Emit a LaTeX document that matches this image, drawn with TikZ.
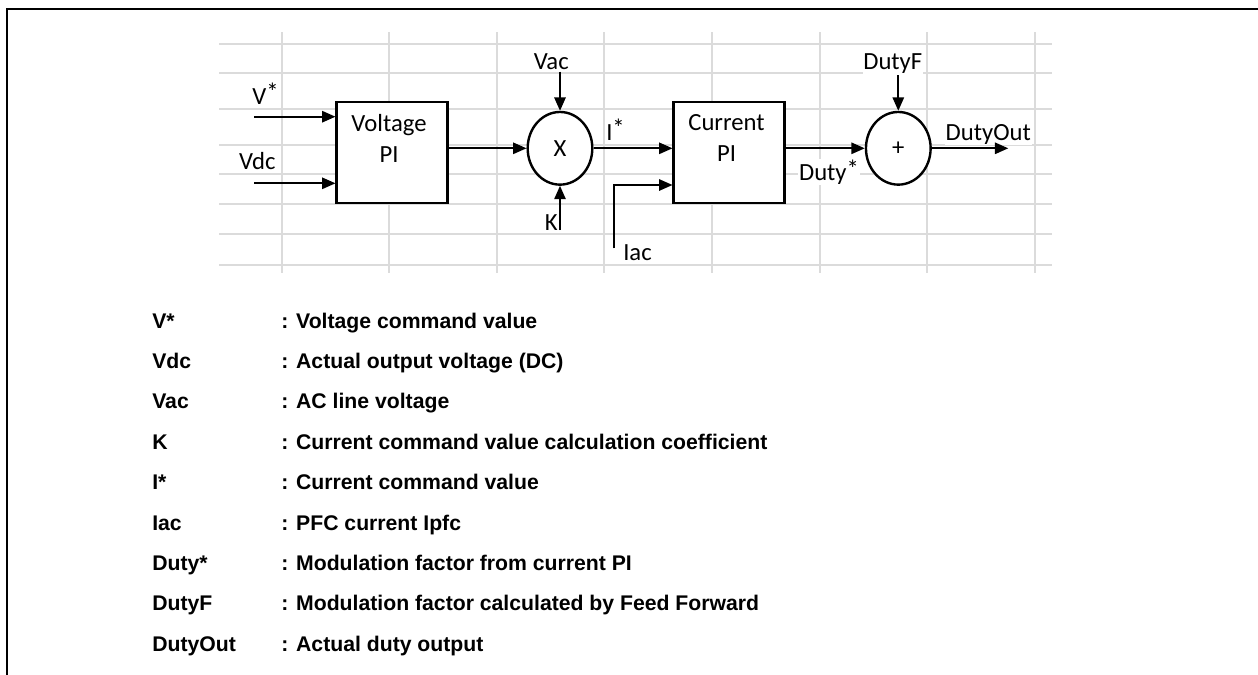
\documentclass[tikz,border=0pt]{standalone}
\usepackage{fontspec}
\setmainfont{Carlito}
\newfontfamily\legfam{Liberation Sans}
\usetikzlibrary{arrows.meta,shapes.geometric}
\newcommand\diafont{\fontsize{18.5}{23.3}\selectfont}
\newcommand\legfont{\legfam\bfseries\fontsize{15.9}{19}\selectfont}
\newcommand\supstar{\raisebox{0.14em}{*}}
\begin{document}
\begin{tikzpicture}[x=0.75pt,y=-0.75pt,
  blk/.style={draw, line width=1.8pt, fill=white, minimum width=83pt, minimum height=76pt, inner sep=0pt},
  sum/.style={draw, ellipse, line width=1.8pt, fill=white, minimum width=48.5pt, minimum height=54.5pt, inner sep=0pt, font=\diafont},
  blktxt/.style={font=\diafont, align=center, anchor=north, inner sep=0pt},
  lbl/.style={font=\diafont, anchor=base, inner sep=0.5pt, fill=white},
  arr/.style={-{Triangle[length=10pt,width=8.5pt]}, line width=1.3pt},
  leg/.style={font=\legfont, anchor=base west, inner sep=0pt},
  gridline/.style={black!14, line width=0.8pt}]
\useasboundingbox (0,0) rectangle (1258,675);
% frame
\draw[line width=1.5pt] (7,675) -- (7,9) -- (1258,9);
% grid
\foreach \y in {44,73,109,145,174,204,234,265} \draw[gridline] (219,\y) -- (1052,\y);
\foreach \x in {282,389,497,604,712,820,927,1035} \draw[gridline] (\x,32) -- (\x,273);
% blocks
\node[blk] (vpi) at (392,152.5) {};
\node[blk] (cpi) at (729,152.5) {};
\node[sum] (mul) at (560,148.3) {X};
\node[sum] (add) at (898.3,148.3) {+};
\node[blktxt] (vpitxt) at (389,114.4) {Voltage\\PI};
\node[blktxt] (cpitxt) at (726.5,114.4) {Current\\PI};
% signal labels
\node[lbl] (vstar) at (265.5,104) {V\supstar};
\node[lbl] (vdc) at (257.3,169.3) {Vdc};
\node[lbl] (vac) at (551.3,69.3) {Vac};
\node[lbl] (k) at (551.3,230) {K};
\node[lbl] (istar) at (615.5,140) {I\supstar};
\node[lbl] (iac) at (637.5,260) {Iac};
\node[lbl] (dutystar) at (829,180.7) {Duty\supstar};
\node[lbl] (dutyf) at (892.8,69.3) {DutyF};
\node[lbl] (dutyout) at (988.3,140) {DutyOut};
% free ends
\coordinate (vsin) at (254,116.7);
\coordinate (vdcin) at (254,183.3);
\coordinate (vacin) at (560,71.7);
\coordinate (kin) at (560,230);
\coordinate (iacin) at (614,248.3);
\coordinate (dfin) at (898.3,75);
\coordinate (dout) at (1008.3,148.3);
\draw[arr] (vsin) -- (vsin -| vpi.west);
\draw[arr] (vdcin) -- (vdcin -| vpi.west);
\draw[arr] (vpi.east |- mul.west) -- (mul.west);
\draw[arr] (vacin) -- (mul.north);
\draw[arr] (kin) -- (mul.south);
\draw[arr] (mul.east) -- (mul.east -| cpi.west);
\draw[arr] (iacin) |- (cpi.west |- 0,185);
\draw[arr] (cpi.east |- add.west) -- (add.west);
\draw[arr] (dfin) -- (add.north);
\draw[arr] (add.east) -- (dout);
% legend
\node[leg] (kvs) at (152,328) {V*};
\node[leg] (dvs) at (281,328) {: Voltage command value};
\node[leg] (kvdc) at (152,368.4) {Vdc};
\node[leg] (dvdc) at (281,368.4) {: Actual output voltage (DC)};
\node[leg] (kvac) at (152,408.8) {Vac};
\node[leg] (dvac) at (281,408.8) {: AC line voltage};
\node[leg] (kk) at (152,449.2) {K};
\node[leg] (dk) at (281,449.2) {: Current command value calculation coefficient};
\node[leg] (kis) at (152,489.6) {I*};
\node[leg] (dis) at (281,489.6) {: Current command value};
\node[leg] (kiac) at (152,530) {Iac};
\node[leg] (diac) at (281,530) {: PFC current Ipfc};
\node[leg] (kds) at (152,570.4) {Duty*};
\node[leg] (dds) at (281,570.4) {: Modulation factor from current PI};
\node[leg] (kdf) at (152,610.8) {DutyF};
\node[leg] (ddf) at (281,610.8) {: Modulation factor calculated by Feed Forward};
\node[leg] (kdo) at (152,651.2) {DutyOut};
\node[leg] (ddo) at (281,651.2) {: Actual duty output};
\end{tikzpicture}
\end{document}
